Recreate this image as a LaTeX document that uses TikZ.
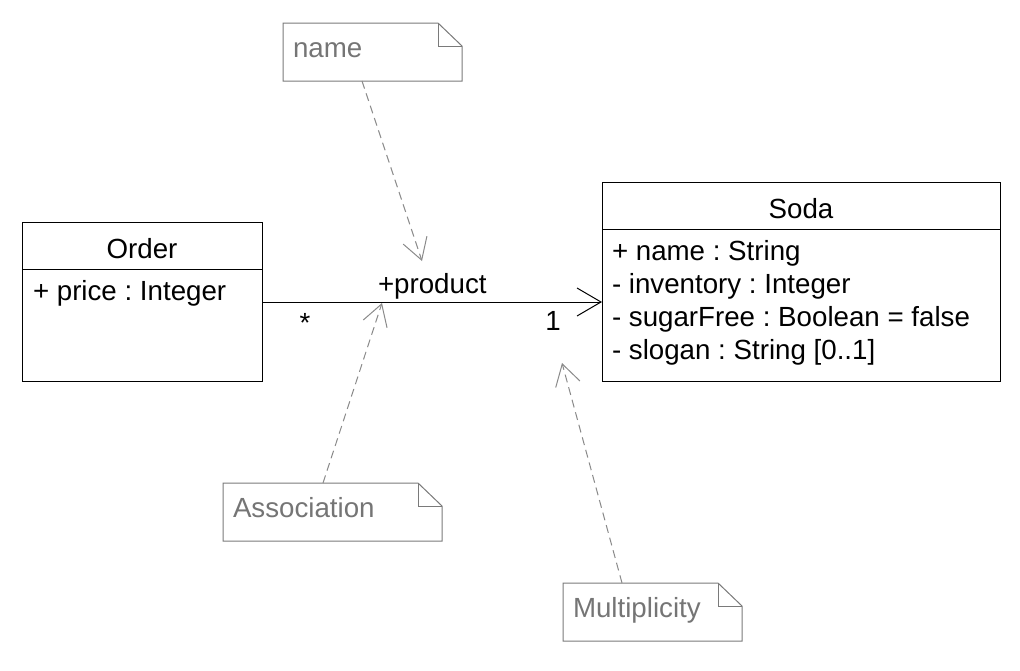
\documentclass[tikz,border=0pt]{standalone}
\usepackage{fontspec}
\setmainfont{Liberation Sans}
\usetikzlibrary{arrows.meta}
\frenchspacing
\definecolor{notegray}{HTML}{7A7A7A}
\definecolor{notetext}{HTML}{757575}
\definecolor{dashgray}{HTML}{8A8A8A}
\newcommand\foldnote[1]{%
  \draw[noteline] (#1.north west) -- ([xshift=-24pt]#1.north east)
    -- ([yshift=-23pt]#1.north east) -- (#1.south east) -- (#1.south west) -- cycle;
  \draw[noteline] ([xshift=-24pt]#1.north east) |- ([yshift=-23pt]#1.north east);}
\begin{document}
\begin{tikzpicture}[x=1pt,y=-1pt,
  every node/.style={font=\fontsize{27.7}{33}\selectfont\frenchspacing, inner sep=0pt, outer sep=0pt},
  classbox/.style={draw=black, line width=1pt, anchor=north west, inner sep=0pt},
  notebox/.style={anchor=north west, inner sep=0pt, minimum height=58pt},
  noteline/.style={draw=notegray, line width=1pt, line join=miter},
  notetxt/.style={anchor=base west, text=notetext},
  assoc/.style={draw=black, line width=1pt, -{Straight Barb[length=24pt,width=28pt]}},
  dashline/.style={draw=dashgray, line width=1pt, dash pattern=on 8pt off 5pt,
    -{Straight Barb[length=21pt,width=25pt]}}]
\useasboundingbox (0,0) rectangle (1020,670);

% Order class
\node[classbox, minimum width=240pt, minimum height=47pt] (orderhead) at (22,222) {};
\node[classbox, minimum width=240pt, minimum height=112pt] (orderbody) at (22,269) {};
\node[anchor=base] (ordername) at (142,258) {Order};
\node[anchor=base west] (orderattr) at (33,300) {+ price : Integer};

% Soda class
\node[classbox, minimum width=398pt, minimum height=47pt] (sodahead) at (602,182) {};
\node[classbox, minimum width=398pt, minimum height=152pt] (sodabody) at (602,229) {};
\node[anchor=base] (sodaname) at (801,218) {Soda};
\node[anchor=base west] (sodaa) at (612,260) {+ name : String};
\node[anchor=base west] (sodab) at (612,293) {- inventory : Integer};
\node[anchor=base west] (sodac) at (612,326) {- sugarFree : Boolean = false};
\node[anchor=base west] (sodad) at (612,359) {- slogan : String [0..1]};

% association
\draw[assoc] ([yshift=-33pt]orderbody.north east) -- ([yshift=-73pt]sodabody.north west);
\node[anchor=base west] (role) at (378,293) {+product};
\node[anchor=base] (mstar) at (305,332) {*};
\node[anchor=base] (mone) at (553,330) {1};

% notes
\node[notebox, minimum width=179pt] (notename) at (283,23) {};
\foldnote{notename}
\node[notetxt] (notenametext) at (293,57) {name};

\node[notebox, minimum width=219pt] (noteassoc) at (223,483) {};
\foldnote{noteassoc}
\node[notetxt] (noteassoctext) at (233,517) {Association};

\node[notebox, minimum width=179pt] (notemult) at (563,583) {};
\foldnote{notemult}
\node[notetxt] (notemulttext) at (573,617) {Multiplicity};

% note connectors
\coordinate (nametip) at (422,261);
\coordinate (assoctip) at (382,303);
\coordinate (multtip) at (562,363);
\draw[dashline] ([xshift=79pt]notename.south west) -- (nametip);
\draw[dashline] ([xshift=100pt]noteassoc.north west) -- (assoctip);
\draw[dashline] ([xshift=59pt]notemult.north west) -- (multtip);
\end{tikzpicture}
\end{document}
